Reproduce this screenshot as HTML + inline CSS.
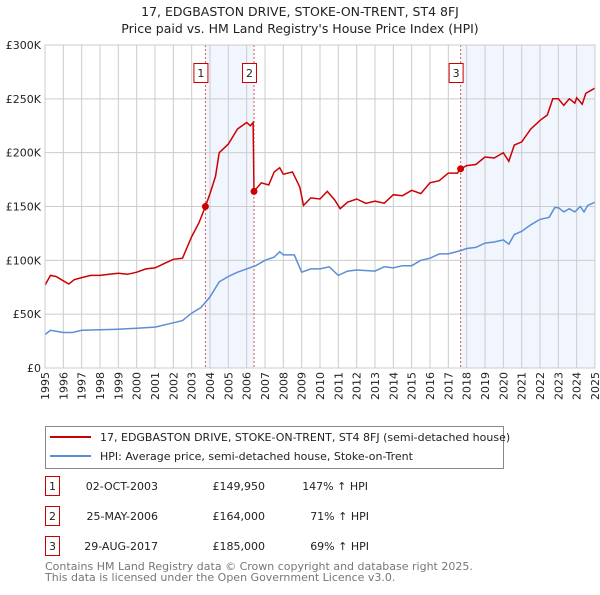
<!DOCTYPE html>
<html><head><meta charset="utf-8"><style>
body{margin:0;background:#fff;font-family:"Liberation Sans","DejaVu Sans",sans-serif;}
svg text{font-family:"DejaVu Sans","Liberation Sans",sans-serif;}
</style></head><body>
<svg width="600" height="590" xmlns="http://www.w3.org/2000/svg">
<text x="300" y="16" text-anchor="middle" font-size="12.5" fill="#222">17, EDGBASTON DRIVE, STOKE-ON-TRENT, ST4 8FJ</text>
<text x="300" y="33" text-anchor="middle" font-size="12.5" fill="#222">Price paid vs. HM Land Registry's House Price Index (HPI)</text>
<g id="plot"></g>
<g>
<rect x="45.5" y="426.5" width="458" height="42" fill="#fff" stroke="#888"/>
<line x1="50" y1="437" x2="91" y2="437" stroke="#cc0000" stroke-width="2"/>
<text x="100" y="441" font-size="11" fill="#222">17, EDGBASTON DRIVE, STOKE-ON-TRENT, ST4 8FJ (semi-detached house)</text>
<line x1="50" y1="456" x2="91" y2="456" stroke="#5b8fd4" stroke-width="2"/>
<text x="100" y="460" font-size="11" fill="#222">HPI: Average price, semi-detached house, Stoke-on-Trent</text>
</g>
<g font-size="11" fill="#222">
<rect x="45.5" y="476.5" width="14" height="19" fill="none" stroke="#cc0000"/><text x="52.5" y="490" text-anchor="middle">1</text>
<text x="158" y="490" text-anchor="end">02-OCT-2003</text><text x="265" y="490" text-anchor="end">£149,950</text><text x="368" y="490" text-anchor="end">147% ↑ HPI</text>
<rect x="45.5" y="506.5" width="14" height="19" fill="none" stroke="#cc0000"/><text x="52.5" y="520" text-anchor="middle">2</text>
<text x="158" y="520" text-anchor="end">25-MAY-2006</text><text x="265" y="520" text-anchor="end">£164,000</text><text x="369" y="520" text-anchor="end">71% ↑ HPI</text>
<rect x="45.5" y="536.5" width="14" height="19" fill="none" stroke="#cc0000"/><text x="52.5" y="550" text-anchor="middle">3</text>
<text x="158" y="550" text-anchor="end">29-AUG-2017</text><text x="265" y="550" text-anchor="end">£185,000</text><text x="369" y="550" text-anchor="end">69% ↑ HPI</text>
</g>
<text x="45" y="570" font-size="11" fill="#777">Contains HM Land Registry data © Crown copyright and database right 2025.</text>
<text x="45" y="581" font-size="11" fill="#777">This data is licensed under the Open Government Licence v3.0.</text>
</svg>
<script>
const redYears=[1995,1995.3,1995.6,1996,1996.3,1996.6,1997,1997.5,1998,1998.5,1999,1999.5,2000,2000.5,2001,2001.5,2002,2002.5,2003,2003.4,2003.75,2004,2004.3,2004.5,2005,2005.5,2006,2006.2,2006.35,2006.4,2006.8,2007.2,2007.5,2007.8,2008,2008.5,2008.9,2009.1,2009.5,2010,2010.4,2010.8,2011.1,2011.5,2012,2012.5,2013,2013.5,2014,2014.5,2015,2015.5,2016,2016.5,2017,2017.5,2017.67,2018,2018.5,2019,2019.5,2020,2020.3,2020.6,2021,2021.5,2022,2022.4,2022.7,2023,2023.3,2023.6,2023.9,2024,2024.3,2024.5,2024.8,2025];
const redValues=[77,86,85,81,78,82,84,86,86,87,88,87,89,92,93,97,101,102,122,135,150,162,178,200,208,222,228,225,228,164,172,170,182,186,180,182,168,151,158,157,164,156,148,154,157,153,155,153,161,160,165,162,172,174,181,181,185,188,189,196,195,200,192,207,210,222,230,235,250,250,244,250,246,251,245,255,258,260];
const hpiYears=[1995,1995.3,1996,1996.5,1997,1998,1999,2000,2001,2002,2002.5,2003,2003.5,2004,2004.5,2005,2005.5,2006,2006.5,2007,2007.5,2007.8,2008,2008.6,2009,2009.5,2010,2010.5,2011,2011.5,2012,2013,2013.5,2014,2014.5,2015,2015.5,2016,2016.5,2017,2017.67,2018,2018.5,2019,2019.5,2020,2020.3,2020.6,2021,2021.5,2022,2022.5,2022.8,2023,2023.3,2023.6,2023.9,2024.2,2024.4,2024.6,2025];
const hpiValues=[31,35,33,33,35,35.5,36,37,38,42,44,51,56,66,80,85,89,92,95,100,103,108,105,105,89,92,92,94,86,90,91,90,94,93,95,95,100,102,106,106,109,111,112,116,117,119,115,124,127,133,138,140,149,149,145,148,145,150,145,151,154];
const saleYears=[2003.75,2006.4,2017.67];
const saleValues=[149.95,164,185];
const saleLabels=["1","2","3"];
const yTicks=[0,50,100,150,200,250,300];
const yTickLabels=["£0","£50K","£100K","£150K","£200K","£250K","£300K"];
const xTicks=[];for(let y=1995;y<=2025;y++)xTicks.push(y);

const L=45,R=595,T=45,B=368;
const xs=y=>L+(y-1995)/30*(R-L);
const ys=v=>B-v/300*(B-T);
const NS="http://www.w3.org/2000/svg";
const plot=document.getElementById('plot');
function mk(tag,attrs,parent){const e=document.createElementNS(NS,tag);for(const k in attrs)e.setAttribute(k,attrs[k]);(parent||plot).appendChild(e);return e;}
const shA=mk('rect',{x:xs(saleYears[0]),y:T,width:xs(saleYears[1])-xs(saleYears[0]),height:B-T,fill:'#eef3fc',opacity:0.8});


const shB=mk('rect',{x:xs(saleYears[2]),y:T,width:R-xs(saleYears[2]),height:B-T,fill:'#eef3fc',opacity:0.8});


xTicks.forEach(y=>{const l=mk('line',{x1:xs(y),x2:xs(y),y1:T,y2:B,stroke:'#ccc','stroke-width':1});


const t=mk('text',{x:0,y:0,transform:`translate(${xs(y)+4},${B+4}) rotate(-90)`,'text-anchor':'end','font-size':11,fill:'#222'});


t.textContent=y;});
yTicks.forEach((v,i)=>{const l=mk('line',{x1:L,x2:R,y1:ys(v),y2:ys(v),stroke:'#ccc','stroke-width':1});


const t=mk('text',{x:L-4,y:ys(v)+4,'text-anchor':'end','font-size':11,fill:'#222'});


t.textContent=yTickLabels[i];});
saleYears.forEach((y,i)=>{const l=mk('line',{x1:xs(y),x2:xs(y),y1:T,y2:B,stroke:'#e05555','stroke-width':1,'stroke-dasharray':'2,2'});


const r=mk('rect',{x:xs(y)-11.5,y:63.5,width:14,height:19,fill:'#fff',stroke:'#cc0000'});


const t=mk('text',{x:xs(y)-4.5,y:77,'text-anchor':'middle','font-size':11,fill:'#222'});


t.textContent=saleLabels[i];});
function path(xv,yv){return xv.map((x,i)=>(i?'L':'M')+xs(x).toFixed(1)+','+ys(yv[i]).toFixed(1)).join('');}
const hp=mk('path',{d:path(hpiYears,hpiValues),fill:'none',stroke:'#5b8fd4','stroke-width':1.5});


const rp=mk('path',{d:path(redYears,redValues),fill:'none',stroke:'#cc0000','stroke-width':1.5});


saleYears.forEach((y,i)=>{const c=mk('circle',{cx:xs(y),cy:ys(saleValues[i]),r:3.5,fill:'#cc0000'});

});
const ax=mk('rect',{x:L,y:T,width:R-L,height:B-T,fill:'none',stroke:'#ccc'});


</script>
</body></html>
